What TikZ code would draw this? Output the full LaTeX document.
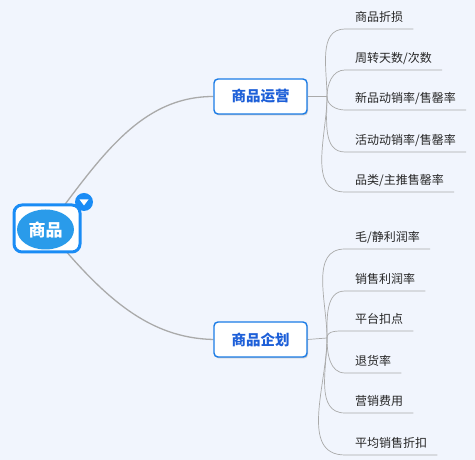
\documentclass[tikz,border=0pt]{standalone}
\usepackage{fontspec}
\setmainfont{Noto Sans CJK SC}
\usetikzlibrary{backgrounds,shadows,positioning,shapes.geometric,calc}
\definecolor{pagebg}{HTML}{F1F5FD}
\definecolor{rootblue}{HTML}{1A8CF5}
\definecolor{ellblue}{HTML}{2A9BEA}
\definecolor{boxblue}{HTML}{1A7BE6}
\definecolor{boxtext}{HTML}{1D5FD8}
\definecolor{wire}{HTML}{AAAAAA}

\begin{document}
\begin{tikzpicture}[x=1pt, y=1pt,
    topic/.style={draw=boxblue, line width=1.4pt, fill=white, rounded corners=4pt,
      minimum width=93pt, minimum height=35pt, inner sep=0pt, text=boxtext,
      font=\fontsize{14.5}{16}\selectfont\bfseries,
      drop shadow={shadow xshift=1pt, shadow yshift=-1.5pt, opacity=0.35}},
    leaf/.style={anchor=south west, inner xsep=10pt, inner ysep=4pt,
      text height=9pt, text depth=3pt, text=black!85,
      font=\fontsize{12}{14}\selectfont},
    mainwire/.style={draw=wire, line width=1.3pt},
    leafwire/.style={draw=wire, line width=0.7pt}]

  \useasboundingbox (0,0) rectangle (475,460);

  % Root

  \node[draw=rootblue, line width=3pt, fill=white, rounded corners=8pt,
    minimum width=66pt, minimum height=47pt] (root) at (47,231.5) {};
  \node[ellipse, fill=ellblue, minimum width=57pt, minimum height=40pt, inner sep=0pt,
    text=white, font=\fontsize{17}{19}\selectfont\bfseries] (rootin) at (45.5,230.5) {商品};
  \node[circle, fill=rootblue, minimum size=18pt, inner sep=0pt] (fold) at (84,258) {};
  \fill[white] ($(fold)+(-4.5,2.5)$) -- ($(fold)+(4.5,2.5)$) -- ($(fold)+(0,-3.5)$) -- cycle;

  % Topics

  \node[topic] (ops) at (260.5,363.5) {商品运营};
  \node[topic] (plan) at (260.5,120.5) {商品企划};

  \coordinate (hub1) at (327,363.5);
  \coordinate (hub2) at (327,122);

  % Leaves of the first topic

  \node[leaf] (o1) at (345,431) {商品折损};
  \node[leaf] (o2) at (345,390) {周转天数/次数};
  \node[leaf] (o3) at (345,350) {新品动销率/售罄率};
  \node[leaf] (o4) at (345,308) {活动动销率/售罄率};
  \node[leaf] (o5) at (345,268) {品类/主推售罄率};

  % Leaves of the second topic

  \node[leaf] (p1) at (345,211) {毛/静利润率};
  \node[leaf] (p2) at (345,169) {销售利润率};
  \node[leaf] (p3) at (345,129) {平台扣点};
  \node[leaf] (p4) at (345,87) {退货率};
  \node[leaf] (p5) at (345,47) {营销费用};
  \node[leaf] (p6) at (345,5) {平均销售折扣};

  % Wires

  \begin{scope}[on background layer]
  \fill[pagebg] (0,0) rectangle (475,460);

  \draw[mainwire] (root.center) .. controls (100,302) and (140,363.5) .. (ops.west);
  \draw[mainwire] (root.center) .. controls (105,160) and (150,122) .. (plan.west);

  \draw[leafwire] (ops.east) -- (hub1);
  \draw[leafwire] (plan.east) -- (hub2);

  \draw[leafwire] (hub1) to[out=90,in=180] (o1.south west) -- (o1.south east);
  \draw[leafwire] (hub1) to[out=90,in=180] (o2.south west) -- (o2.south east);
  \draw[leafwire] (hub1) to[out=-90,in=180] (o3.south west) -- (o3.south east);
  \draw[leafwire] (hub1) to[out=-90,in=180] (o4.south west) -- (o4.south east);
  \draw[leafwire] (hub1) to[out=-90,in=180] (o5.south west) -- (o5.south east);

  \draw[leafwire] (hub2) to[out=90,in=180] (p1.south west) -- (p1.south east);
  \draw[leafwire] (hub2) to[out=90,in=180] (p2.south west) -- (p2.south east);
  \draw[leafwire] (hub2) to[out=90,in=180] (p3.south west) -- (p3.south east);
  \draw[leafwire] (hub2) to[out=-90,in=180] (p4.south west) -- (p4.south east);
  \draw[leafwire] (hub2) to[out=-90,in=180] (p5.south west) -- (p5.south east);
  \draw[leafwire] (hub2) to[out=-90,in=180] (p6.south west) -- (p6.south east);
  \end{scope}

\end{tikzpicture}
\end{document}
